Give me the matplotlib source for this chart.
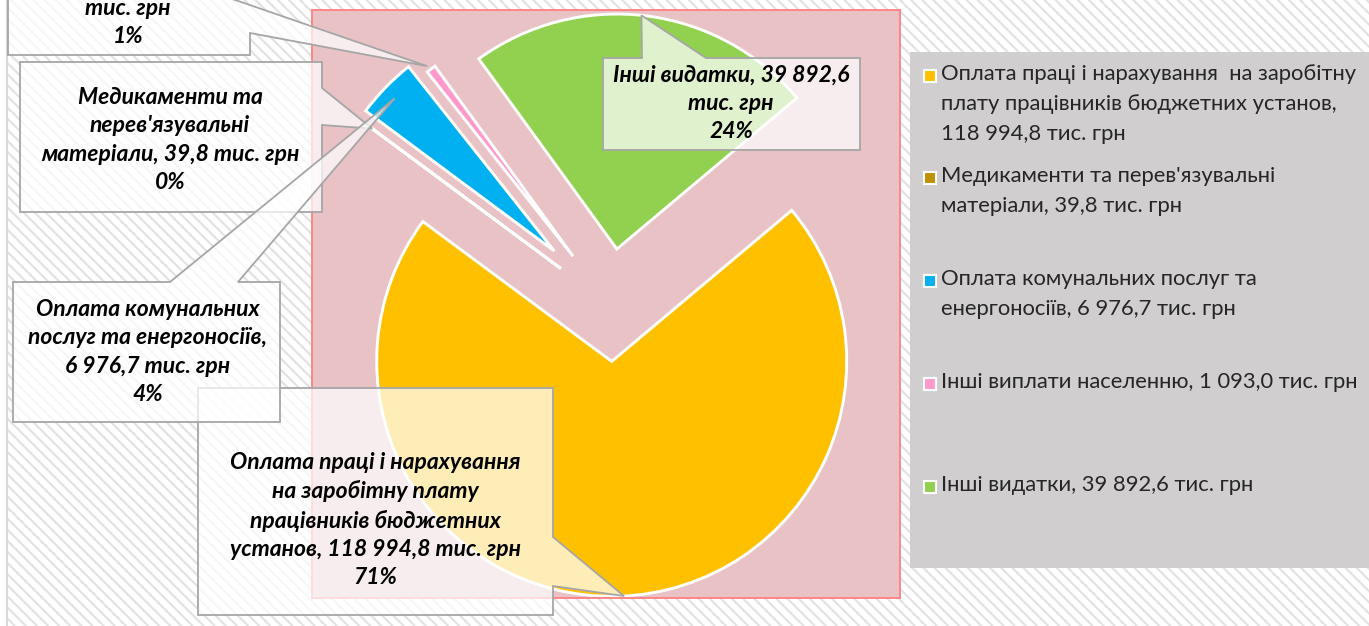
import numpy as np
import matplotlib.pyplot as plt
from matplotlib.patches import Rectangle, Polygon

plt.rcParams['font.family'] = ['Lato', 'DejaVu Sans']
plt.rcParams['hatch.linewidth'] = 1.5

# data
values = [118994.8, 39.8, 6976.7, 1093.0, 39892.6]
colors = ['#FFC000', '#BF9000', '#00B0F0', '#FF99CC', '#92D050']
explode = [0.24, 0.26, 0.33, 0.26, 0.24]

legend_tpl = [
    "Оплата праці і нарахування  на заробітну\nплату працівників бюджетних установ,\n{v} тис. грн",
    "Медикаменти та перев'язувальні\nматеріали, {v} тис. грн",
    "Оплата комунальних послуг та\nенергоносіїв, {v} тис. грн",
    "Інші виплати населенню, {v} тис. грн",
    "Інші видатки, {v} тис. грн",
]
label_tpl = [
    "Оплата праці і нарахування\nна заробітну плату\nпрацівників бюджетних\nустанов, {v} тис. грн",
    "Медикаменти та\nперев'язувальні\nматеріали, {v} тис. грн",
    "Оплата комунальних\nпослуг та енергоносіїв,\n{v} тис. грн",
    "Інші виплати\nнаселенню, {v}\nтис. грн",
    "Інші видатки, {v}\nтис. грн",
]


def fmt(v):
    return f"{v:,.1f}".replace(",", " ").replace(".", ",")


total = sum(values)
W, H = 1369, 626
fig = plt.figure(figsize=(W / 100, H / 100), dpi=100)
fig.patch.set_facecolor('white')

# hatched chart background
bg = fig.add_axes([0, 0, 1, 1], zorder=0)
bg.set_xlim(0, W)
bg.set_ylim(H, 0)
bg.axis('off')
bg.add_patch(Rectangle((7, -5), W, H + 10, facecolor='white', edgecolor='#e2e2e2',
                       hatch='\\\\\\', lw=0))
bg.plot([7, 7], [0, H], color='#d9d9d9', lw=1.5)

# plot area (pixels 312..900 x 10..598), pie radius 235px centred at (610,305)
px0, py0, px1, py1 = 312, 10, 900, 598
R = 235.0
cx, cy = 610, 305
ax = fig.add_axes([px0 / W, 1 - py1 / H, (px1 - px0) / W, (py1 - py0) / H], zorder=1)
wedges, _ = ax.pie(values, colors=colors, explode=explode, startangle=40,
                   counterclock=False, radius=1,
                   wedgeprops=dict(edgecolor='white', linewidth=2.1))
ax.set_aspect('auto')
ax.set_xlim(-(cx - px0) / R, (px1 - cx) / R)
ax.set_ylim(-(py1 - cy) / R, (cy - py0) / R)
ax.set_frame_on(True)
ax.set_facecolor('#E8C2C4')
for s in ax.spines.values():
    s.set_color('#FF7F80')
    s.set_linewidth(1.3)

# overlay in pixel coordinates
ov = fig.add_axes([0, 0, 1, 1], zorder=2)
ov.set_xlim(0, W)
ov.set_ylim(H, 0)
ov.axis('off')
ov.patch.set_alpha(0)


def arc_point(w, ang, rf):
    if ang is None:
        ang = (w.theta1 + w.theta2) / 2
    t = np.deg2rad(ang)
    p = (w.center[0] + w.r * rf * np.cos(t), w.center[1] + w.r * rf * np.sin(t))
    return ov.transData.inverted().transform(ax.transData.transform(p))


# callout outlines (None = pointer tip), anchor angle on the wedge, text centre
callouts = [
    ([(198, 388), (553, 388), (553, 537), None, (553, 586), (553, 615), (198, 615)], 273, 1.0, (375, 520)),
    ([(20, 62), (322, 62), (322, 88), None, (322, 125), (322, 212), (20, 212)], None, 1.0, (170, 140)),
    ([(13, 282), (170, 282), None, (238, 282), (280, 282), (280, 422), (13, 422)], 136.3, 0.94, (148, 352)),
    ([(8, -7), (215, -7), None, (250, 33), (250, 55), (8, 55)], 127.5, 1.02, (128, -6)),
    ([(603, 58), (642, 58), None, (706, 58), (860, 58), (860, 150), (603, 150)], 84, 1.0, (731, 103)),
]

for i, (outline, ang, rf, (tx, ty)) in enumerate(callouts):
    tip = arc_point(wedges[i], ang, rf)
    pts = [tip if p is None else p for p in outline]
    ov.add_patch(Polygon(pts, closed=True, facecolor=(1, 1, 1, 0.72),
                         edgecolor='#A6A6A6', lw=1.3))
    pct = f"{round(values[i] / total * 100):.0f}%"
    txt = label_tpl[i].format(v=fmt(values[i])) + "\n" + pct
    ov.text(tx, ty, txt, ha='center', va='center', fontsize=16.5, fontweight='bold',
            fontstyle='italic', color='black', linespacing=1.42)

# legend
ov.add_patch(Rectangle((910, 52), W - 910 + 5, 568 - 52, facecolor='#D0CECF', lw=0))
entry_y = [76, 178, 281, 384, 487]
for i, y in enumerate(entry_y):
    ov.add_patch(Rectangle((924, y - 6), 12, 12, facecolor=colors[i],
                           edgecolor='white', lw=1.5))
    ov.text(941, y - 12, legend_tpl[i].format(v=fmt(values[i])), ha='left', va='top',
            fontsize=15.8, color='#262626', linespacing=1.63)

fig.savefig('out.png', dpi=100)
